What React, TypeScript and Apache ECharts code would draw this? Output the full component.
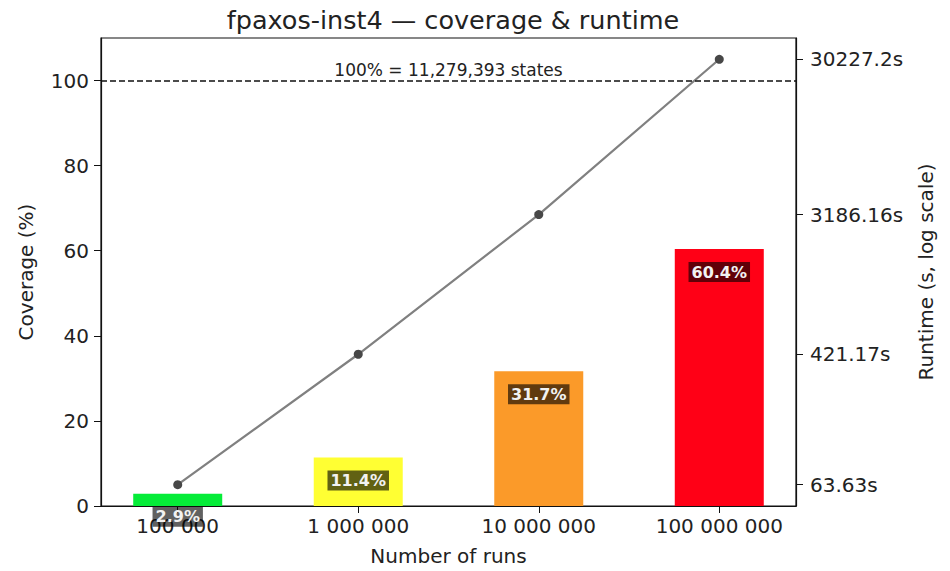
import React, { useEffect, useRef } from "react";
import * as echarts from "echarts";

const runLabels = ["100 000", "1 000 000", "10 000 000", "100 000 000"];
const coverage = [2.9, 11.4, 31.7, 60.4];
const runtimes = [63.63, 421.17, 3186.16, 30227.2];
const barColors = ["#05ec38", "#ffff33", "#fb9a29", "#ff0016"];
const coverageTicks = [0, 20, 40, 60, 80, 100];
const totalStates = 11279393;
const titleText = "fpaxos-inst4 \u2014 coverage & runtime";

const FONT = "DejaVu Sans";

export default function App() {
  const ref = useRef<HTMLDivElement>(null);

  useEffect(() => {
    document.body.style.margin = "0";
    if (!ref.current) return;
    const chart = echarts.init(ref.current, undefined, { renderer: "svg" });

    const logs = runtimes.map((r) => Math.log10(r));
    const lo = Math.min(...logs);
    const hi = Math.max(...logs);
    const pad = (hi - lo) * 0.05;
    const xIdx = runLabels.map((_, i) => i);

    const option: any = {
      animation: false,
      backgroundColor: "#ffffff",
      textStyle: { fontFamily: FONT },
      title: {
        text: titleText,
        left: 448,
        textAlign: "center",
        top: 2,
        textStyle: { fontFamily: FONT, fontSize: 25.5, fontWeight: "normal", color: "#222" },
      },
      grid: {
        left: 101,
        right: 154,
        top: 38,
        bottom: 65,
        show: true,
        borderColor: "#111",
        borderWidth: 1.2,
        backgroundColor: "transparent",
      },
      xAxis: {
        type: "value",
        min: -0.425,
        max: 3.425,
        name: "Number of runs",
        nameLocation: "middle",
        nameGap: 40,
        nameTextStyle: { fontFamily: FONT, fontSize: 20, color: "#222" },
        axisLine: { show: true, onZero: false, lineStyle: { color: "#111", width: 1.2 } },
        axisTick: { show: true, length: 7, lineStyle: { color: "#111" }, customValues: xIdx },
        axisLabel: {
          customValues: xIdx,
          margin: 10,
          fontFamily: FONT,
          fontSize: 20,
          color: "#222",
          formatter: (v: number) => runLabels[Math.round(v)] ?? "",
        },
        splitLine: { show: false },
      },
      yAxis: [
        {
          type: "value",
          min: 0,
          max: 110,
          position: "left",
          name: "Coverage (%)",
          nameLocation: "middle",
          nameGap: 65,
          nameRotate: 90,
          nameTextStyle: { fontFamily: FONT, fontSize: 20, color: "#222" },
          axisLine: { show: true, onZero: false, lineStyle: { color: "#111", width: 1.2 } },
          axisTick: { show: true, length: 7, lineStyle: { color: "#111" }, customValues: coverageTicks },
          axisLabel: {
            customValues: coverageTicks,
            margin: 12,
            fontFamily: FONT,
            fontSize: 20,
            color: "#222",
          },
          splitLine: { show: false },
        },
        {
          type: "value",
          min: lo - pad,
          max: hi + pad,
          position: "right",
          name: "Runtime (s, log scale)",
          nameLocation: "middle",
          nameGap: 120,
          nameRotate: 90,
          nameTextStyle: { fontFamily: FONT, fontSize: 20, color: "#222" },
          axisLine: { show: true, onZero: false, lineStyle: { color: "#111", width: 1.2 } },
          axisTick: { show: true, length: 7, lineStyle: { color: "#111" }, customValues: logs },
          axisLabel: {
            customValues: logs,
            margin: 14,
            fontFamily: FONT,
            fontSize: 20,
            color: "#222",
            formatter: (v: number) => {
              let best = 0;
              logs.forEach((l, i) => {
                if (Math.abs(l - v) < Math.abs(logs[best] - v)) best = i;
              });
              return runtimes[best] + "s";
            },
          },
          splitLine: { show: false },
        },
      ],
      series: [
        {
          type: "bar",
          xAxisIndex: 0,
          yAxisIndex: 0,
          barWidth: 89,
          z: 2,
          data: coverage.map((v, i) => ({
            value: [i, v],
            itemStyle: { color: barColors[i] },
          })),
          label: {
            show: true,
            position: "insideTop",
            distance: 13,
            formatter: (p: any) => p.value[1].toFixed(1) + "%",
            fontFamily: FONT,
            fontSize: 16,
            fontWeight: "bold",
            color: "#f2f2f2",
            backgroundColor: "rgba(0,0,0,0.62)",
            padding: [2, 3],
          },
          markLine: {
            silent: true,
            symbol: "none",
            lineStyle: { type: [6, 3], color: "#111", width: 1.5 },
            label: {
              show: true,
              position: "middle",
              distance: 2,
              formatter: "100% = " + totalStates.toLocaleString("en-US") + " states",
              fontFamily: FONT,
              fontSize: 17,
              color: "#222",
            },
            data: [{ yAxis: 100 }],
          },
        },
        {
          type: "line",
          xAxisIndex: 0,
          yAxisIndex: 1,
          z: 3,
          data: runtimes.map((r, i) => [i, Math.log10(r)]),
          symbol: "circle",
          symbolSize: 9,
          lineStyle: { color: "#808080", width: 2.2 },
          itemStyle: { color: "#474747" },
        },
      ],
    };

    chart.setOption(option);
    return () => chart.dispose();
  }, []);

  return (
    <div
      ref={ref}
      style={{ position: "fixed", left: 0, top: 0, width: 950, height: 571 }}
    />
  );
}
